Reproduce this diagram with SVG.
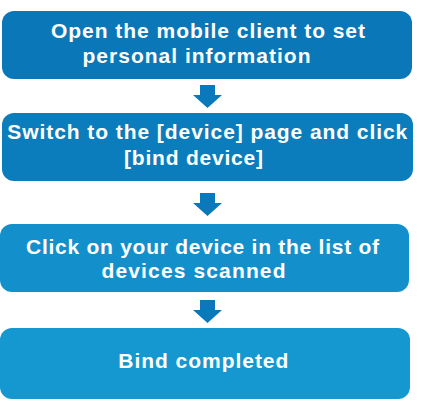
<svg xmlns="http://www.w3.org/2000/svg" width="424" height="405" viewBox="0 0 424 405">
<style>
.t{font-family:"Liberation Sans",Arial,sans-serif;font-weight:bold;font-size:21px;fill:#ffffff}
.a{fill:#0a79bb}
</style>
<rect width="424" height="405" fill="#ffffff"/>
<g id="connectors">
<path class="a" d="M200,85 H215 V95 H222 L207.5,108 L193,95 H200 Z"/>
<path class="a" d="M200,193 H215 V203 H222 L207.5,216 L193,203 H200 Z"/>
<path class="a" d="M200,300 H215 V310 H222 L207.5,323 L193,310 H200 Z"/>
</g>
<g id="node1">
<rect x="2" y="11" width="410" height="68" rx="12" fill="#0a78b8"/>
<text class="t" x="51" y="37.5" textLength="314" lengthAdjust="spacing">Open the mobile client to set</text>
<text class="t" x="82.5" y="63" textLength="228" lengthAdjust="spacing">personal information</text>
</g>
<g id="node2">
<rect x="2" y="113" width="411" height="68" rx="12" fill="#0b7dbd"/>
<text class="t" x="7.3" y="138.7" textLength="400" lengthAdjust="spacing">Switch to the [device] page and click</text>
<text class="t" x="124" y="165" textLength="139" lengthAdjust="spacing">[bind device]</text>
</g>
<g id="node3">
<rect x="0" y="224" width="409" height="68" rx="12" fill="#1390cc"/>
<text class="t" x="26" y="253.5" textLength="353" lengthAdjust="spacing">Click on your device in the list of</text>
<text class="t" x="101.5" y="277.5" textLength="184" lengthAdjust="spacing">devices scanned</text>
</g>
<g id="node4">
<rect x="0" y="328" width="410" height="71" rx="12" fill="#1597d0"/>
<text class="t" x="118.3" y="368.3" textLength="170" lengthAdjust="spacing">Bind completed</text>
</g>
</svg>
